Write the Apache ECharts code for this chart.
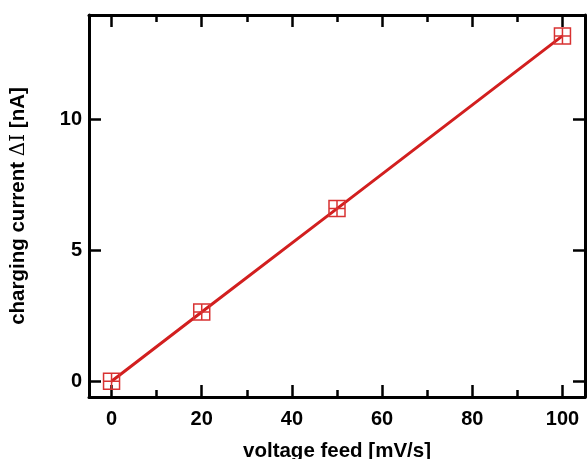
<!DOCTYPE html>
<html>
<head>
<meta charset="utf-8">
<script src="https://cdn.jsdelivr.net/npm/echarts@6/dist/echarts.min.js"></script>
<style>
  html, body { margin: 0; padding: 0; background: #fff; }
  #chart { width: 587px; height: 459px; }
</style>
</head>
<body>
<div id="chart"></div>
<script>
// Charging current versus voltage feed rate
const feedRates = [0, 20, 50, 100];          // mV/s
const chargingCurrent = [0, 2.65, 6.6, 13.2]; // nA

const xMajorTicks = [0, 20, 40, 60, 80, 100];
const xMinorTicks = [10, 30, 50, 70, 90];
const yMajorTicks = [0, 5, 10];

const RED = '#d21f1f';
const FONT = '"Liberation Sans", Arial, sans-serif';

const xRange = { min: -5, max: 105 };
const yRange = { min: -0.6, max: 14.0 };

const tickStyle = { color: '#000', width: 2.5 };

function xAxisDef(opts) {
  return Object.assign({
    type: 'value', min: xRange.min, max: xRange.max,
    splitLine: { show: false },
    axisLine: { show: true, onZero: false, lineStyle: { color: '#000', width: 3 } },
    axisLabel: { show: false },
  }, opts);
}
function yAxisDef(opts) {
  return Object.assign({
    type: 'value', min: yRange.min, max: yRange.max,
    splitLine: { show: false },
    axisLine: { show: true, onZero: false, lineStyle: { color: '#000', width: 3 } },
    axisLabel: { show: false },
  }, opts);
}

const chart = echarts.init(document.getElementById('chart'), null, { renderer: 'canvas' });
chart.setOption({
  animation: false,
  backgroundColor: '#fff',
  grid: { left: 89, right: 2, top: 15, bottom: 62, outerBoundsMode: 'none', containLabel: false },
  xAxis: [
    xAxisDef({
      position: 'bottom',
      name: 'voltage feed [mV/s]',
      nameLocation: 'middle',
      nameGap: 44,
      nameTextStyle: { fontFamily: FONT, fontWeight: 'bold', fontSize: 20.5, color: '#000' },
      axisTick: { show: true, inside: true, length: 12, customValues: xMajorTicks, lineStyle: tickStyle },
      axisLabel: { show: true, customValues: xMajorTicks, margin: 12, fontFamily: FONT, fontWeight: 'bold', fontSize: 20, color: '#000' },
    }),
    xAxisDef({
      position: 'bottom',
      axisLine: { show: true, onZero: false, lineStyle: { color: 'rgba(0,0,0,0)', width: 0 } },
      axisTick: { show: true, inside: true, length: 7, customValues: xMinorTicks, lineStyle: tickStyle },
    }),
    xAxisDef({
      position: 'top',
      axisTick: { show: true, inside: true, length: 12, customValues: xMajorTicks, lineStyle: tickStyle },
    }),
    xAxisDef({
      position: 'top',
      axisLine: { show: true, onZero: false, lineStyle: { color: 'rgba(0,0,0,0)', width: 0 } },
      axisTick: { show: true, inside: true, length: 7, customValues: xMinorTicks, lineStyle: tickStyle },
    }),
  ],
  yAxis: [
    yAxisDef({
      position: 'left',
      name: '{t|charging current }{s|ΔI}{t| [nA]}',
      nameLocation: 'middle',
      nameGap: 60,
      nameRotate: 90,
      nameTextStyle: {
        color: '#000',
        rich: {
          t: { fontFamily: FONT, fontWeight: 'bold', fontSize: 20.5, color: '#000' },
          s: { fontFamily: '"DejaVu Serif", serif', fontWeight: 'normal', fontSize: 20, color: '#000' },
        },
      },
      axisTick: { show: true, inside: true, length: 12, customValues: yMajorTicks, lineStyle: tickStyle },
      axisLabel: { show: true, customValues: yMajorTicks, margin: 7, fontFamily: FONT, fontWeight: 'bold', fontSize: 20, color: '#000' },
    }),
    yAxisDef({
      position: 'right',
      axisTick: { show: true, inside: true, length: 12, customValues: yMajorTicks, lineStyle: tickStyle },
    }),
  ],
  series: [
    {
      type: 'line',
      xAxisIndex: 0,
      yAxisIndex: 0,
      data: feedRates.map((x, i) => [x, chargingCurrent[i]]),
      lineStyle: { color: RED, width: 3 },
      symbol: 'path://M0,0H10V10H0Z M5,0V10 M0,5H10',
      symbolSize: 16,
      showSymbol: true,
      itemStyle: { color: 'rgba(0,0,0,0)', borderColor: '#d83232', borderWidth: 1.5 },
      emphasis: { disabled: true },
      z: 3,
    },
  ],
});
</script>
</body>
</html>
